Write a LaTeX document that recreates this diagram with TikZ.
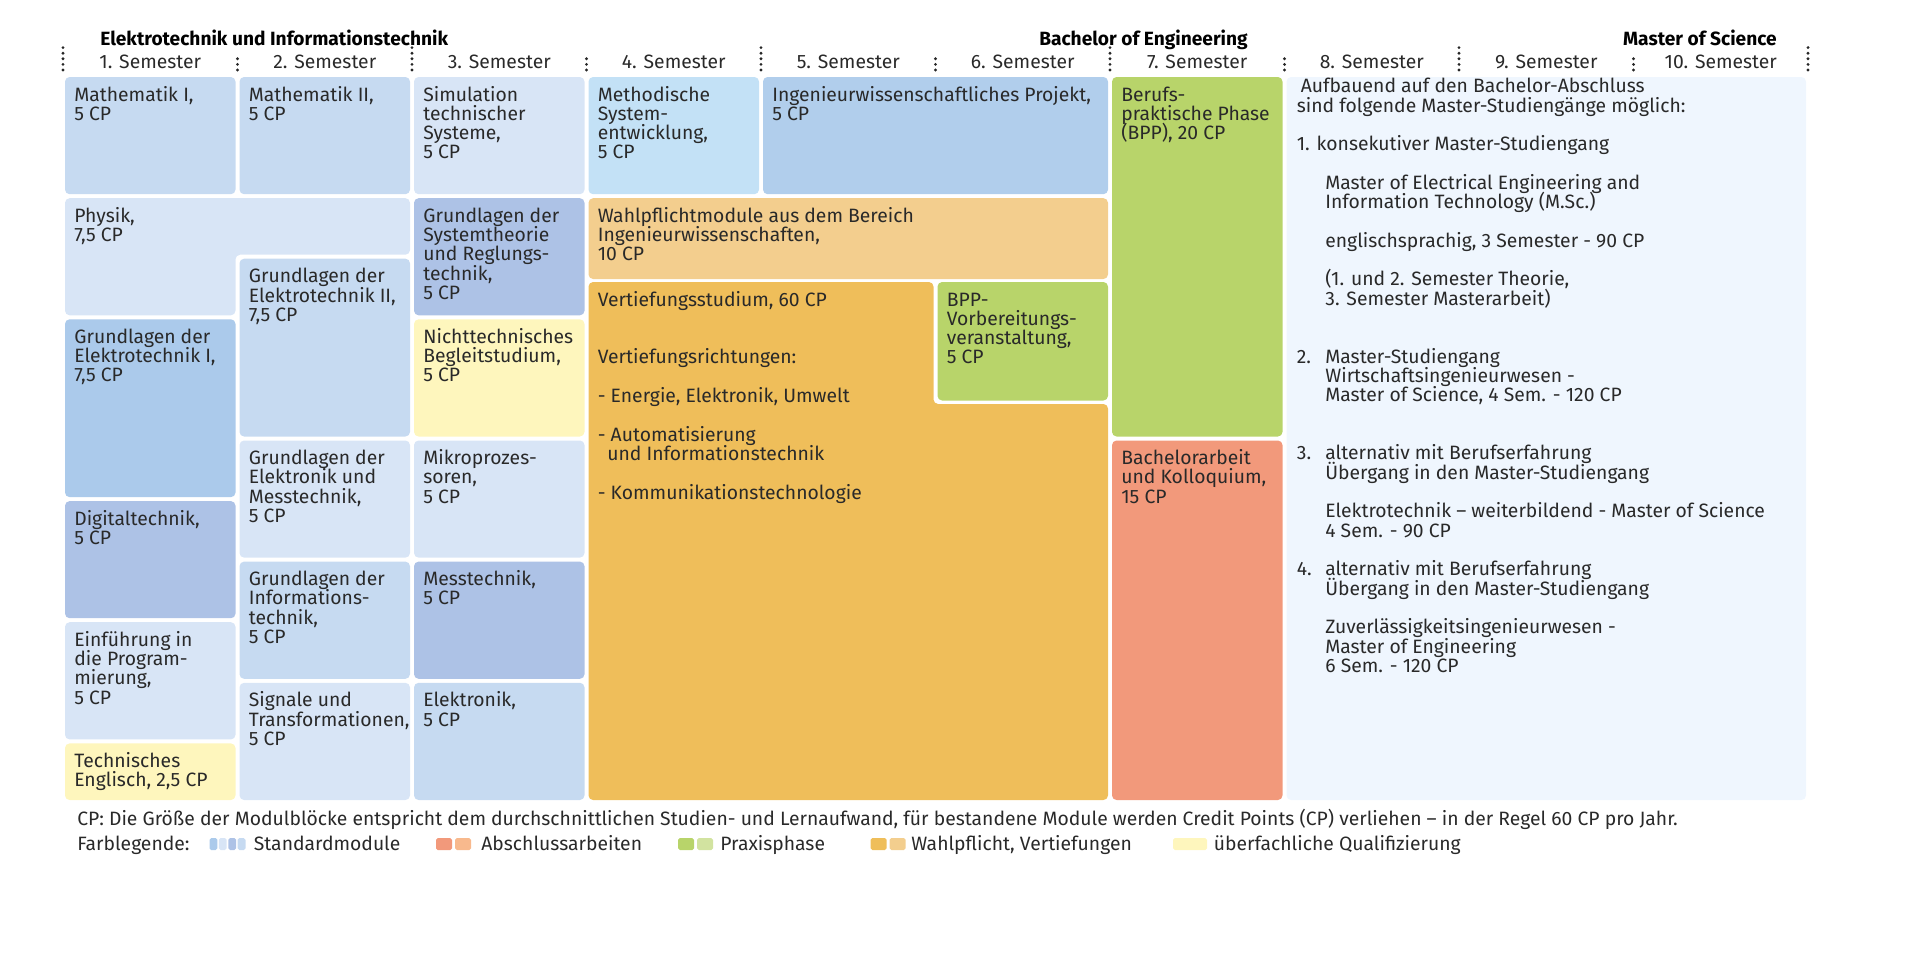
\documentclass[tikz,border=0pt]{standalone}
\usepackage{fontspec}
\setmainfont{Fira Sans}
\usetikzlibrary{positioning}

\definecolor{hblau}{HTML}{D8E5F6}
\definecolor{mblau}{HTML}{C6DAF1}
\definecolor{dblau}{HTML}{ABCAEB}
\definecolor{gblau}{HTML}{ADC2E6}
\definecolor{cblau}{HTML}{C3E1F6}
\definecolor{pblau}{HTML}{B1CEEC}
\definecolor{masterblau}{HTML}{EFF6FE}
\definecolor{gelb}{HTML}{FEF6BD}
\definecolor{ohell}{HTML}{F3CE8E}
\definecolor{orange}{HTML}{EFBE5A}
\definecolor{gruen}{HTML}{B8D46A}
\definecolor{gruenhell}{HTML}{D2E3A0}
\definecolor{rot}{HTML}{F2997B}
\definecolor{rothell}{HTML}{F8B98D}

% lines of a block, fixed pitch, baseline at the first line
\newcommand{\zeilen}[1]{\vtop{\hsize=12cm\parindent=0pt\raggedright
  \baselineskip=11pt\lineskiplimit=-100pt\noindent#1}}

\tikzset{
  modul/.style={rounded corners=2.6pt},
  txt/.style={anchor=base west, inner sep=0pt, text=black!84,
    font=\fontsize{11pt}{11pt}\selectfont},
  sem/.style={anchor=base, inner sep=0pt, text=black!84,
    font=\fontsize{11pt}{11pt}\selectfont},
  kopf/.style={anchor=base west, inner sep=0pt, text=black,
    font=\bfseries\fontsize{10.9pt}{11pt}\selectfont},
  leg/.style={rounded corners=1pt}
}

\begin{document}
\begin{tikzpicture}[x=0.02cm, y=-0.02cm]
  \useasboundingbox (0,0) rectangle (1920,974);
  % headings
  \node[kopf] (et) at (100,45) {Elektrotechnik und Informationstechnik};
  \node[kopf,anchor=base east] (beng) at (1248,45) {Bachelor of Engineering};
  \node[kopf,anchor=base east] (msc) at (1777,45) {Master of Science};
  % semesters and dotted separators
  \foreach \i in {1,...,10}
    \node[sem] (s\i) at ({65+(\i-1)*174.5+85.25},68) {\i. Semester};
  \foreach \i in {0,...,10}{
    \pgfmathtruncatemacro{\n}{mod(\i,2)==0 ? 4 : 2}
    \foreach \k in {0,...,\n}
      \fill[black!85] ({63+\i*174.5},{70-\k*5.6}) circle (0.9pt);
  }
  \begin{scope}[shift={(65,77)}]
    % 1. semester
    \fill[modul,mblau] (0,0) rectangle (170.5,117.2);
    \node[txt] (mathe1) at (9,24) {\zeilen{Mathematik I,\\5 CP}};
    \fill[modul,hblau] (0,121.2) -- (345,121.2) -- (345,177.7) -- (170.5,177.7)
      -- (170.5,238.3) -- (0,238.3) -- cycle;
    \node[txt] (physik) at (9,145.2) {\zeilen{Physik,\\7,5 CP}};
    \fill[modul,dblau] (0,242.3) rectangle (170.5,420.1);
    \node[txt] (get1) at (9,266.3) {\zeilen{Grundlagen der\\Elektrotechnik I,\\7,5 CP}};
    \fill[modul,gblau] (0,424.1) rectangle (170.5,541.2);
    \node[txt] (digital) at (9,448.1) {\zeilen{Digitaltechnik,\\5 CP}};
    \fill[modul,hblau] (0,545.2) rectangle (170.5,662.4);
    \node[txt] (einf) at (9,569.2) {\zeilen{Einführung in\\die Program-\\mierung,\\5 CP}};
    \fill[modul,gelb] (0,666.4) rectangle (170.5,723);
    \node[txt] (englisch) at (9,690.4) {\zeilen{Technisches\\Englisch, 2,5 CP}};
    % 2. semester
    \fill[modul,mblau] (174.5,0) rectangle (345,117.2);
    \node[txt] (mathe2) at (183.5,24) {\zeilen{Mathematik II,\\5 CP}};
    \fill[modul,mblau] (174.5,181.7) rectangle (345,359.5);
    \node[txt] (get2) at (183.5,205.7) {\zeilen{Grundlagen der\\Elektrotechnik II,\\7,5 CP}};
    \fill[modul,hblau] (174.5,363.5) rectangle (345,480.6);
    \node[txt] (gelektronik) at (183.5,387.5) {\zeilen{Grundlagen der\\Elektronik und\\Messtechnik,\\5 CP}};
    \fill[modul,mblau] (174.5,484.6) rectangle (345,601.8);
    \node[txt] (ginfo) at (183.5,508.6) {\zeilen{Grundlagen der\\Informations-\\technik,\\5 CP}};
    \fill[modul,hblau] (174.5,605.8) rectangle (345,723);
    \node[txt] (signale) at (183.5,629.8) {\zeilen{Signale und\\Transformationen,\\5 CP}};
    % 3. semester
    \fill[modul,hblau] (349,0) rectangle (519.5,117.2);
    \node[txt] (simulation) at (358,24) {\zeilen{Simulation\\technischer\\Systeme,\\5 CP}};
    \fill[modul,gblau] (349,121.2) rectangle (519.5,238.3);
    \node[txt] (system) at (358,145.2) {\zeilen{Grundlagen der\\Systemtheorie\\und Reglungs-\\technik,\\5 CP}};
    \fill[modul,gelb] (349,242.3) rectangle (519.5,359.5);
    \node[txt] (nichttech) at (358,266.3) {\zeilen{Nichttechnisches\\Begleitstudium,\\5 CP}};
    \fill[modul,hblau] (349,363.5) rectangle (519.5,480.6);
    \node[txt] (mikro) at (358,387.5) {\zeilen{Mikroprozes-\\soren,\\5 CP}};
    \fill[modul,gblau] (349,484.6) rectangle (519.5,601.8);
    \node[txt] (mess) at (358,508.6) {\zeilen{Messtechnik,\\5 CP}};
    \fill[modul,mblau] (349,605.8) rectangle (519.5,723);
    \node[txt] (elektronik) at (358,629.8) {\zeilen{Elektronik,\\5 CP}};
    % 4. to 6. semester
    \fill[modul,cblau] (523.5,0) rectangle (694,117.2);
    \node[txt] (methodik) at (532.5,24) {\zeilen{Methodische\\System-\\entwicklung,\\5 CP}};
    \fill[modul,pblau] (698,0) rectangle (1043,117.2);
    \node[txt] (projekt) at (707,24) {\zeilen{Ingenieurwissenschaftliches Projekt,\\5 CP}};
    \fill[modul,ohell] (523.5,121.2) rectangle (1043,202);
    \node[txt] (wahl) at (532.5,145.2) {\zeilen{Wahlpflichtmodule aus dem Bereich\\Ingenieurwissenschaften,\\10 CP}};
    \fill[modul,orange] (523.5,205) -- (868.5,205) -- (868.5,327) -- (1043,327)
      -- (1043,723) -- (523.5,723) -- cycle;
    \node[txt] (vertiefung) at (532.5,229) {\zeilen{Vertiefungsstudium, 60 CP\\[22pt]
      Vertiefungsrichtungen:\\[11pt]
      - Energie, Elektronik, Umwelt\\[11pt]
      - Automatisierung\\
      \hspace*{0.19cm}und Informationstechnik\\[11pt]
      - Kommunikationstechnologie}};
    \fill[modul,gruen] (872.5,205) rectangle (1043,323.5);
    \node[txt] (bppvorb) at (881.5,229) {\zeilen{BPP-\\Vorbereitungs-\\veranstaltung,\\5 CP}};
    % 7. semester
    \fill[modul,gruen] (1047,0) rectangle (1217.5,359.5);
    \node[txt] (bpp) at (1056,24) {\zeilen{Berufs-\\praktische Phase\\(BPP), 20 CP}};
    \fill[modul,rot] (1047,363.5) rectangle (1217.5,723);
    \node[txt] (bachelor) at (1056,387.5) {\zeilen{Bachelorarbeit\\und Kolloquium,\\15 CP}};
    % master
    \fill[modul,masterblau] (1221.5,0) rectangle (1741,723);
    \node[txt] (master) at (1231.5,15.7) {\zeilen{\hspace*{0.08cm}Aufbauend auf den Bachelor-Abschluss\\
      sind folgende Master-Studiengänge möglich:\\[11pt]
      1. konsekutiver Master-Studiengang\\[11pt]
      \hspace*{0.57cm}Master of Electrical Engineering and\\
      \hspace*{0.57cm}Information Technology (M.Sc.)\\[11pt]
      \hspace*{0.57cm}englischsprachig, 3 Semester - 90 CP\\[11pt]
      \hspace*{0.57cm}(1. und 2. Semester Theorie,\\
      \hspace*{0.57cm}3. Semester Masterarbeit)\\[22pt]
      \makebox[0.57cm][l]{2.}Master-Studiengang\\
      \hspace*{0.57cm}Wirtschaftsingenieurwesen -\\
      \hspace*{0.57cm}Master of Science, 4 Sem. - 120 CP\\[22pt]
      \makebox[0.57cm][l]{3.}alternativ mit Berufserfahrung\\
      \hspace*{0.57cm}Übergang in den Master-Studiengang\\[11pt]
      \hspace*{0.57cm}Elektrotechnik – weiterbildend - Master of Science\\
      \hspace*{0.57cm}4 Sem. - 90 CP\\[11pt]
      \makebox[0.57cm][l]{4.}alternativ mit Berufserfahrung\\
      \hspace*{0.57cm}Übergang in den Master-Studiengang\\[11pt]
      \hspace*{0.57cm}Zuverlässigkeitsingenieurwesen -\\
      \hspace*{0.57cm}Master of Engineering\\
      \hspace*{0.57cm}6 Sem. - 120 CP}};
  \end{scope}
  % footnote and colour legend
  \node[txt] (cp) at (77,825) {CP: Die Größe der Modulblöcke entspricht dem durchschnittlichen Studien- und Lernaufwand, für bestandene Module werden Credit Points (CP) verliehen – in der Regel 60 CP pro Jahr.};
  \node[txt] (legende) at (77,850) {Farblegende:};
  \fill[leg,dblau] (209.5,838) rectangle (217.3,850);
  \fill[leg,hblau] (218.9,838) rectangle (226.7,850);
  \fill[leg,gblau] (228.3,838) rectangle (236.1,850);
  \fill[leg,mblau] (237.7,838) rectangle (245.5,850);
  \node[txt] (lstandard) at (253.5,850) {Standardmodule};
  \fill[leg,rot] (436,838) rectangle (452,850);
  \fill[leg,rothell] (455,838) rectangle (471,850);
  \node[txt] (labschluss) at (481,850) {Abschlussarbeiten};
  \fill[leg,gruen] (678,838) rectangle (694,850);
  \fill[leg,gruenhell] (697,838) rectangle (713,850);
  \node[txt] (lpraxis) at (720,850) {Praxisphase};
  \fill[leg,orange] (870.6,838) rectangle (886.6,850);
  \fill[leg,ohell] (889.6,838) rectangle (905.6,850);
  \node[txt] (lwahl) at (911,850) {Wahlpflicht, Vertiefungen};
  \fill[leg,gelb] (1173,838) rectangle (1207,850);
  \node[txt] (lueber) at (1213.5,850) {überfachliche Qualifizierung};
\end{tikzpicture}
\end{document}
